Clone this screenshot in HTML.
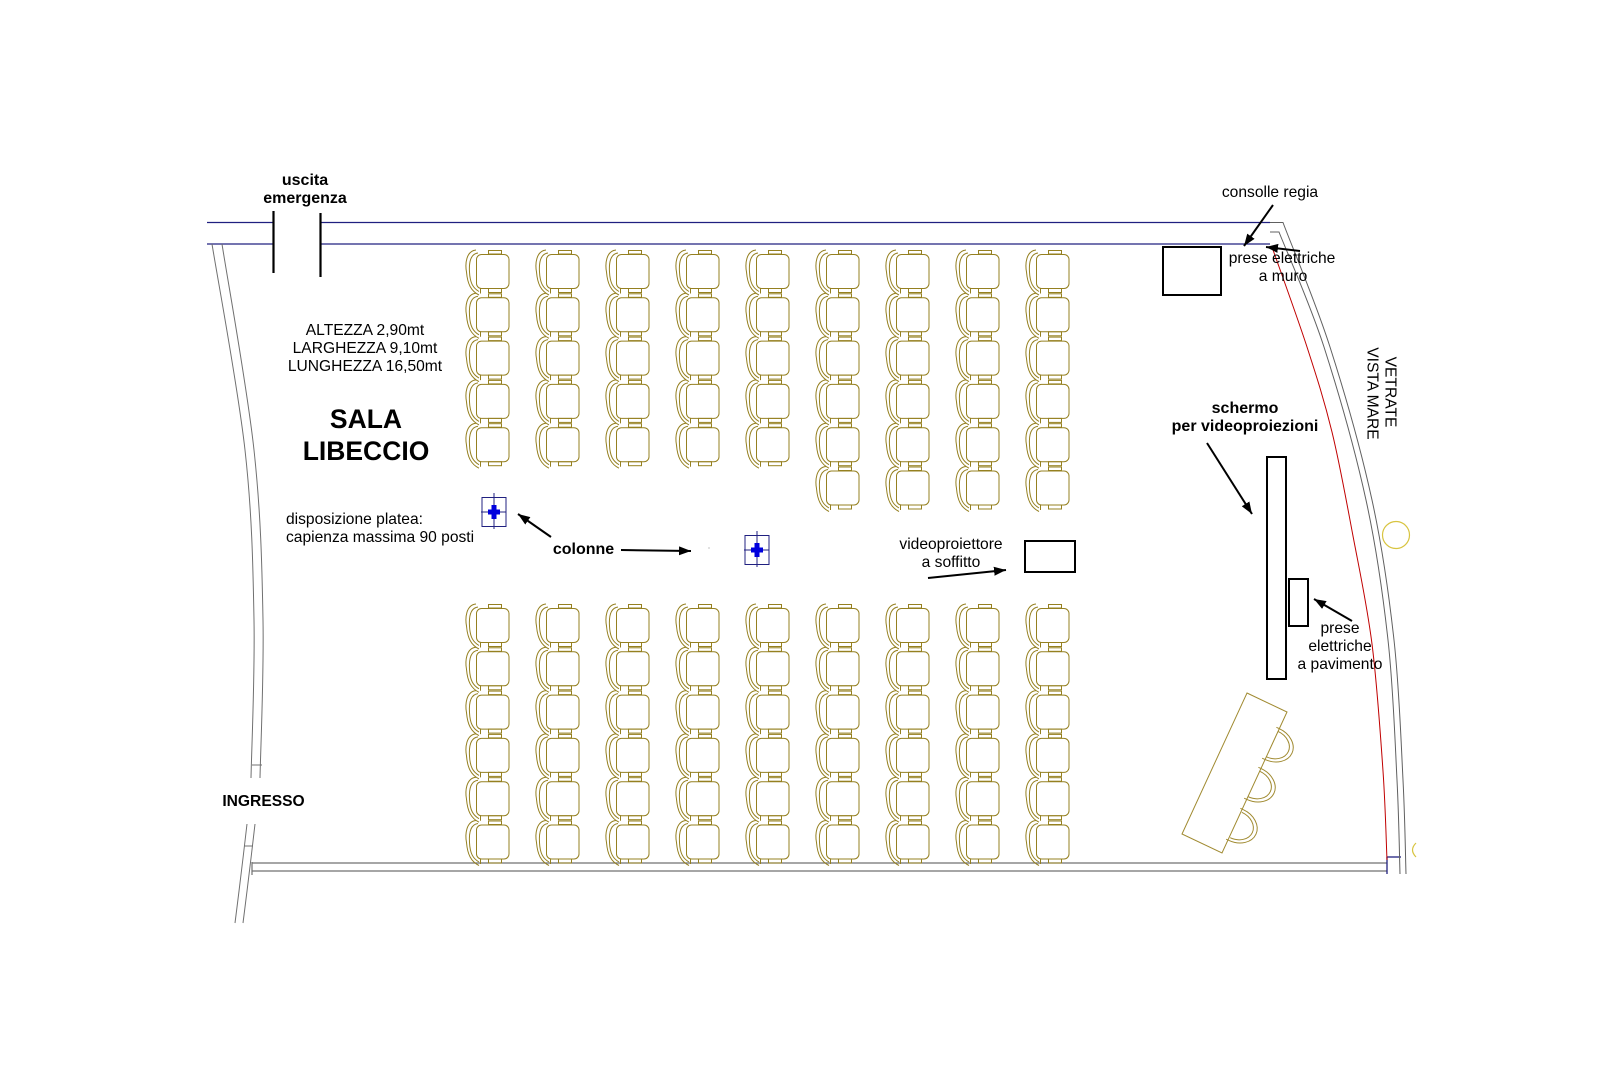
<!DOCTYPE html>
<html>
<head>
<meta charset="utf-8">
<style>
  html, body { margin: 0; padding: 0; background: #ffffff; }
  body { width: 1620px; height: 1080px; overflow: hidden; }
  svg { display: block; }
  text { font-family: "Liberation Sans", Arial, sans-serif; fill: #000; }
  .r { font-size: 15.6px; }
  .b { font-size: 16px; font-weight: bold; }
</style>
</head>
<body>
<svg width="1620" height="1080" viewBox="0 0 1620 1080" xmlns="http://www.w3.org/2000/svg">
  <defs>
    <g id="ch" fill="none" stroke="#958020" stroke-width="1">
      <rect x="22.5" y="-3.5" width="13" height="3.5"/>
      <rect x="10.5" y="0.5" width="32.5" height="34" rx="5"/>
      <rect x="22.5" y="34.5" width="13" height="4"/>
      <line x1="14.5" y1="34.5" x2="14.5" y2="39.5"/>
      <path d="M10,-4 C0,-3 -1,10 0.5,18 C1.5,30 5,37 13,41"/>
      <path d="M12,-1 C4,0 3,10 3.5,18 C4,29 7,34 13,37.5"/>
    </g>
    <g id="c5">
      <use href="#ch" y="0"/>
      <use href="#ch" y="43.3"/>
      <use href="#ch" y="86.6"/>
      <use href="#ch" y="129.9"/>
      <use href="#ch" y="173.2"/>
    </g>
    <g id="c6">
      <use href="#c5"/>
      <use href="#ch" y="216.5"/>
    </g>
    <g id="tch" fill="none" stroke="#a08a30" stroke-width="1">
      <path d="M0,-17 A22,17 0 0 1 0,17"/>
      <path d="M0,-14 A18,14 0 0 1 0,14"/>
      <path d="M-3,-17 H0 M-3,17 H0"/>
    </g>
    <marker id="ah" markerUnits="userSpaceOnUse" markerWidth="13" markerHeight="10" refX="12" refY="4.5" orient="auto">
      <path d="M0,0 L12,4.5 L0,9 z" fill="#000"/>
    </marker>
    <g id="pil">
      <rect x="-12" y="-14.5" width="24" height="29" fill="none" stroke="#202080" stroke-width="1"/>
      <line x1="-13" y1="0" x2="12" y2="0" stroke="#202080" stroke-width="1"/>
      <line x1="0" y1="-19" x2="0" y2="17" stroke="#202080" stroke-width="1"/>
      <path d="M-2.5,-7 H2.5 V-2.5 H6 V2.5 H2.5 V7 H-2.5 V2.5 H-6 V-2.5 H-2.5 Z" fill="#0000dd"/>
    </g>
  </defs>

  <!-- top wall -->
  <g stroke="#202080" stroke-width="1.2" fill="none">
    <line x1="207" y1="222.5" x2="273" y2="222.5"/>
    <line x1="320" y1="222.5" x2="1270" y2="222.5"/>
    <line x1="207" y1="244" x2="273" y2="244"/>
    <line x1="320" y1="244" x2="1270" y2="244"/>
  </g>
  <!-- door jambs -->
  <line x1="273.5" y1="211" x2="273.5" y2="273" stroke="#000" stroke-width="2.2"/>
  <line x1="320.5" y1="213" x2="320.5" y2="277" stroke="#000" stroke-width="2.2"/>

  <!-- left wall -->
  <g stroke="#707070" stroke-width="1" fill="none">
    <path d="M212,244 C217.5,278.3 238,387.3 245,450 C252,512.7 253,565.3 254,620 C255,674.7 251.5,751.7 251,778"/>
    <path d="M222,244 C227.3,278.3 247.2,387.3 254,450 C260.8,512.7 262,565.3 263,620 C264,674.7 260.5,751.7 260,778"/>
    <line x1="252" y1="765" x2="262" y2="765"/>
    <path d="M247,824 Q241.5,872 235,923"/>
    <path d="M255,824 Q249.5,872 243,923"/>
    <line x1="244" y1="846" x2="253" y2="846"/>
  </g>

  <!-- bottom wall -->
  <g stroke="#707070" stroke-width="1.2" fill="none">
    <line x1="252" y1="863" x2="1387" y2="863"/>
    <line x1="252" y1="871" x2="1387" y2="871"/>
    <line x1="252" y1="862" x2="252" y2="875"/>
  </g>
  <g stroke="#202080" stroke-width="1.3" fill="none">
    <line x1="1387" y1="857" x2="1387" y2="874"/>
    <line x1="1387" y1="857" x2="1401" y2="857"/>
  </g>

  <!-- right (glass) wall -->
  <g stroke="#606060" stroke-width="1" fill="none">
    <path d="M1270,222.5 H1283 C1290.8,243.7 1315.2,300.8 1330,347 C1344.8,393.2 1361.3,451.2 1372,500 C1382.7,548.8 1388.8,593.3 1394,640 C1399.2,686.7 1401,741 1403,780 C1405,819 1405.5,858.3 1406,874"/>
    <path d="M1270,232 H1279 C1286.5,251.2 1309.5,302.3 1324,347 C1338.8,393.2 1355.3,451.2 1366,500 C1376.7,548.8 1382.8,593.3 1388,640 C1393.2,686.7 1395,741 1397,780 C1399,819 1399.5,858.3 1400,874"/>
  </g>
  <path d="M1272,247 C1277.8,263.7 1297,316.2 1307,347 C1317,377.8 1324.3,400.5 1332,432 C1339.7,463.5 1346.3,500.7 1353,536 C1359.7,571.3 1367,604.8 1372,644 C1377,683.2 1380.5,735 1383,771 C1385.5,807 1386.3,845.2 1387,860" fill="none" stroke="#c00000" stroke-width="1"/>

  <circle cx="1396" cy="535" r="13.5" fill="none" stroke="#d8c440" stroke-width="1.2"/>
  <path d="M1416,843 Q1409,850 1416,857" fill="none" stroke="#d8c440" stroke-width="1.2"/>

  <!-- chairs top block -->
  <use href="#c5" x="466" y="254"/>
  <use href="#c5" x="536" y="254"/>
  <use href="#c5" x="606" y="254"/>
  <use href="#c5" x="676" y="254"/>
  <use href="#c5" x="746" y="254"/>
  <use href="#c6" x="816" y="254"/>
  <use href="#c6" x="886" y="254"/>
  <use href="#c6" x="956" y="254"/>
  <use href="#c6" x="1026" y="254"/>

  <!-- chairs bottom block -->
  <use href="#c6" x="466" y="608"/>
  <use href="#c6" x="536" y="608"/>
  <use href="#c6" x="606" y="608"/>
  <use href="#c6" x="676" y="608"/>
  <use href="#c6" x="746" y="608"/>
  <use href="#c6" x="816" y="608"/>
  <use href="#c6" x="886" y="608"/>
  <use href="#c6" x="956" y="608"/>
  <use href="#c6" x="1026" y="608"/>

  <!-- pillars -->
  <use href="#pil" x="494" y="512"/>
  <use href="#pil" x="757" y="550"/>
  <rect x="708.5" y="547.5" width="1" height="1" fill="#888"/>

  <!-- boxes -->
  <g fill="none" stroke="#000" stroke-width="2">
    <rect x="1163" y="247" width="58" height="48"/>
    <rect x="1025" y="541" width="50" height="31"/>
    <rect x="1267" y="457" width="19" height="222"/>
    <rect x="1289" y="579" width="19" height="47"/>
  </g>

  <!-- table with chairs -->
  <polygon points="1247,693 1287,712 1222,853 1182,834" fill="none" stroke="#a08a30" stroke-width="1"/>
  <use href="#tch" transform="translate(1272,744) rotate(24.75)"/>
  <use href="#tch" transform="translate(1254,784) rotate(24.75)"/>
  <use href="#tch" transform="translate(1236,825) rotate(24.75)"/>

  <!-- arrows -->
  <g stroke="#000" stroke-width="2" fill="none" marker-end="url(#ah)">
    <line x1="1273" y1="205" x2="1244" y2="246"/>
    <line x1="1300" y1="251" x2="1266" y2="247"/>
    <line x1="1207" y1="443" x2="1252" y2="514"/>
    <line x1="1352" y1="621" x2="1314" y2="599"/>
    <line x1="928" y1="578" x2="1006" y2="570"/>
    <line x1="621" y1="550" x2="691" y2="551"/>
    <line x1="551" y1="537" x2="518" y2="514"/>
  </g>

  <!-- texts -->
  <text class="b" x="305" y="185" text-anchor="middle">uscita</text>
  <text class="b" x="305" y="203" text-anchor="middle">emergenza</text>

  <text class="r" x="365" y="335" text-anchor="middle">ALTEZZA 2,90mt</text>
  <text class="r" x="365" y="353" text-anchor="middle">LARGHEZZA 9,10mt</text>
  <text class="r" x="365" y="371" text-anchor="middle">LUNGHEZZA 16,50mt</text>

  <text x="366" y="428" text-anchor="middle" style="font-size:26.5px;font-weight:bold">SALA</text>
  <text x="366" y="460" text-anchor="middle" style="font-size:26.5px;font-weight:bold">LIBECCIO</text>

  <text class="r" x="286" y="524">disposizione platea:</text>
  <text class="r" x="286" y="542">capienza massima 90 posti</text>

  <text class="b" x="583.5" y="554" text-anchor="middle">colonne</text>

  <text class="r" x="951" y="549" text-anchor="middle">videoproiettore</text>
  <text class="r" x="951" y="567" text-anchor="middle">a soffitto</text>

  <text class="r" x="1270" y="197" text-anchor="middle">consolle regia</text>
  <text class="r" x="1282" y="263" text-anchor="middle">prese elettriche</text>
  <text class="r" x="1283" y="281" text-anchor="middle">a muro</text>

  <text class="b" x="1245" y="413" text-anchor="middle">schermo</text>
  <text class="b" x="1245" y="431" text-anchor="middle">per videoproiezioni</text>

  <text class="r" x="1340" y="633" text-anchor="middle">prese</text>
  <text class="r" x="1340" y="651" text-anchor="middle">elettriche</text>
  <text class="r" x="1340" y="669" text-anchor="middle">a pavimento</text>

  <text class="r" transform="translate(1391,392) rotate(90)" x="0" y="5.6" text-anchor="middle">VETRATE</text>
  <text class="r" transform="translate(1373,393.5) rotate(90)" x="0" y="5.6" text-anchor="middle">VISTA MARE</text>

  <text x="263.5" y="806" text-anchor="middle" style="font-size:15.6px;font-weight:bold">INGRESSO</text>
</svg>
</body>
</html>
